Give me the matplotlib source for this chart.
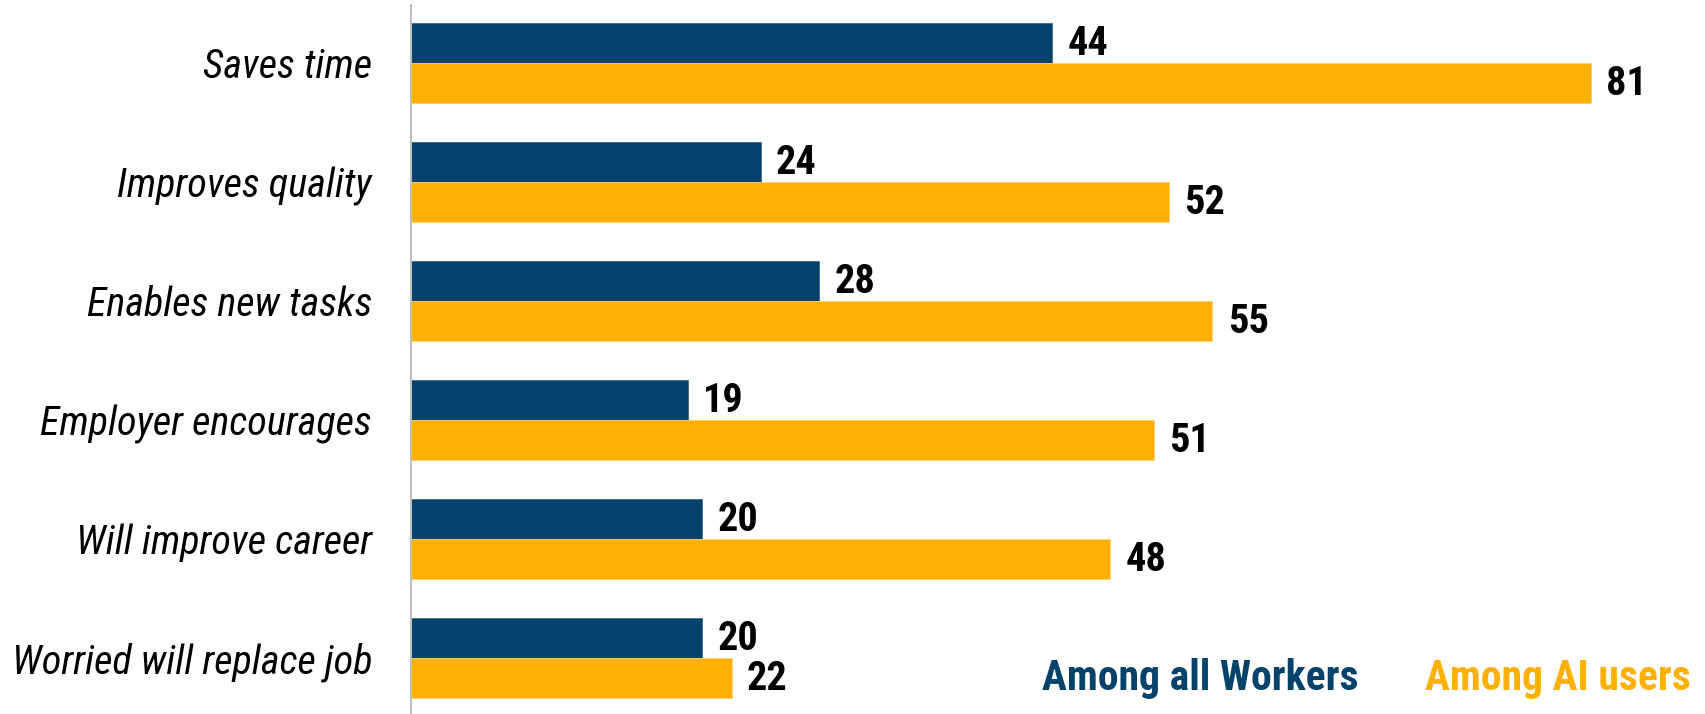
import matplotlib
matplotlib.use("Agg")
import matplotlib.pyplot as plt

# -----------------------------
# Survey data (percent)
# -----------------------------
categories = [
    "Saves time",
    "Improves quality",
    "Enables new tasks",
    "Employer encourages",
    "Will improve career",
    "Worried will replace job",
]
all_workers = [44, 24, 28, 19, 20, 20]
ai_users = [81, 52, 55, 51, 48, 22]

series_names = ["Among all Workers", "Among AI users"]
navy = "#03426A"
gold = "#FFB000"

plt.rcParams["font.family"] = ["Roboto Condensed", "DejaVu Sans"]
cat_size, val_size, key_size = 29, 29, 30

W, H = 1706, 714
fig = plt.figure(figsize=(W / 100, H / 100), dpi=100)
ax = fig.add_axes([411 / W, 0, 1 - 411 / W, 1 - 5 / H])

y = list(range(len(categories)))
bh = 0.336
y_dark = [v - bh / 2 for v in y]
y_gold = [v + bh / 2 for v in y]

b1 = ax.barh(y_dark, all_workers, height=bh, color=navy, edgecolor="#3d6a8a", linewidth=0.6)
b2 = ax.barh(y_gold, ai_users, height=bh, color=gold, edgecolor="#ffd27a", linewidth=0.6)

# value labels just past the bar ends
for bars, vals in [(b1, all_workers), (b2, ai_users)]:
    for rect, v in zip(bars, vals):
        ax.annotate(str(v), (v, rect.get_y() + rect.get_height() / 2),
                    xytext=(11, -1), textcoords="offset points",
                    ha="left", va="center", fontsize=val_size,
                    fontweight="bold", color="black")

ax.set_xlim(0, 1295 / 14.57)
ax.set_ylim(5.47, -0.487)
ax.set_yticks(y)
ax.set_yticklabels(categories, fontsize=cat_size, style="italic")
ax.tick_params(axis="y", length=0, pad=28)
ax.set_xticks([])

for side in ["top", "right", "bottom"]:
    ax.spines[side].set_visible(False)
ax.spines["left"].set_color("#BFBFBF")
ax.spines["left"].set_linewidth(1.5)

# series names written in their own colours
fig.text(1042 / W, 1 - 690 / H, series_names[0], color=navy,
         fontsize=key_size, fontweight="bold", va="baseline", ha="left")
fig.text(1425 / W, 1 - 690 / H, series_names[1], color=gold,
         fontsize=key_size, fontweight="bold", va="baseline", ha="left")

fig.savefig("out.png", dpi=100)
